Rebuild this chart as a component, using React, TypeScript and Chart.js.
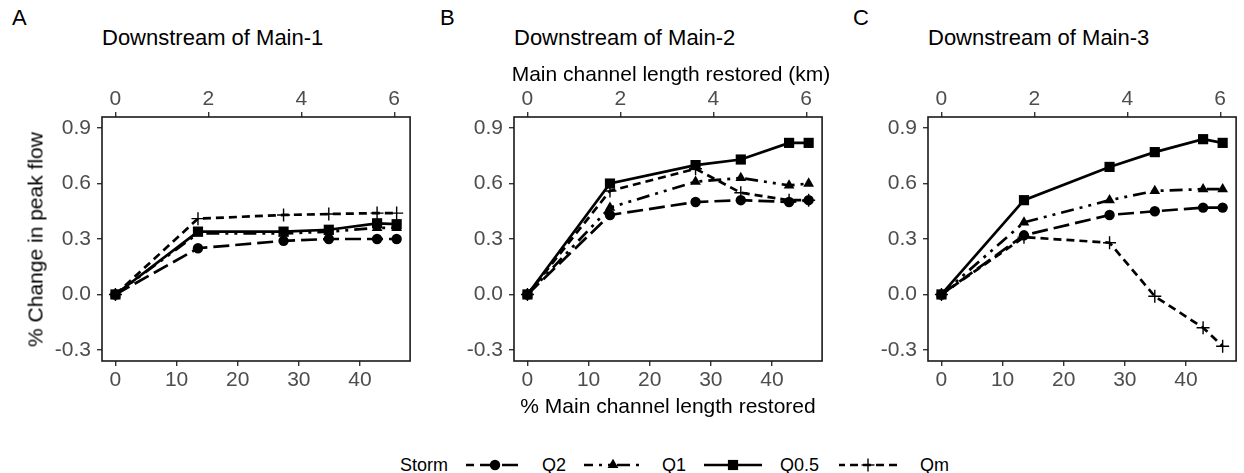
import React, { useEffect, useRef } from "react";
import { Chart, registerables } from "chart.js";

Chart.register(...registerables);

// Share of the main channel length restored (%) for each scenario
const pctRestored = [0, 13.5, 27.5, 34.9, 42.8, 46.0];
// 6 km of main channel corresponds to 45.6 % restored
const KM_PER_PCT = 6 / 45.6;

// Axis ticks
const pctTicks = [0, 10, 20, 30, 40];
const kmTicks = [0, 2, 4, 6];
const changeTicks = [-0.3, 0, 0.3, 0.6, 0.9];

// % change in peak flow, downstream of Main-1
const main1Q2 = [0, 0.25, 0.29, 0.3, 0.3, 0.3];
const main1Q1 = [0, 0.33, 0.33, 0.34, 0.36, 0.36];
const main1Q05 = [0, 0.34, 0.34, 0.35, 0.385, 0.38];
const main1Qm = [0, 0.41, 0.43, 0.435, 0.44, 0.44];

// % change in peak flow, downstream of Main-2
const main2Q2 = [0, 0.43, 0.5, 0.51, 0.5, 0.51];
const main2Q1 = [0, 0.47, 0.61, 0.63, 0.59, 0.6];
const main2Q05 = [0, 0.6, 0.7, 0.73, 0.82, 0.82];
const main2Qm = [0, 0.56, 0.68, 0.55, 0.51, 0.51];

// % change in peak flow, downstream of Main-3
const main3Q2 = [0, 0.32, 0.43, 0.45, 0.47, 0.47];
const main3Q1 = [0, 0.39, 0.51, 0.56, 0.57, 0.57];
const main3Q05 = [0, 0.51, 0.69, 0.77, 0.84, 0.82];
const main3Qm = [0, 0.31, 0.28, -0.01, -0.18, -0.28];

const panelLetters = ["A", "B", "C"];
const panelTitles = ["Downstream of Main-1", "Downstream of Main-2", "Downstream of Main-3"];
const stormNames = ["Q2", "Q1", "Q0.5", "Qm"];

const FONT = "'Liberation Sans', Arial, Helvetica, sans-serif";
const LINE_W = 2.7;

type StormStyle = {
  dash: number[];
  keyOffset: number;
  point: string;
  radius: number;
  border: number;
  order: number;
};
const stormStyles: Record<string, StormStyle> = {
  Q2: { dash: [16, 6], keyOffset: 8, point: "circle", radius: 5.2, border: 0, order: 4 },
  Q1: { dash: [13, 6, 3, 6, 3, 6], keyOffset: 4, point: "triangle", radius: 6.2, border: 0, order: 3 },
  "Q0.5": { dash: [], keyOffset: 0, point: "rect", radius: 7.2, border: 0, order: 2 },
  Qm: { dash: [8, 5], keyOffset: 2, point: "cross", radius: 6.5, border: 1.4, order: 1 },
};

// Plot-area geometry (page pixels)
const PLOT_TOP = 117;
const PLOT_H = 244;
const PLOT_W = 314;
const AXIS_W = 60;
const TOP_H = 57;
const BOTTOM_H = 40;
const RIGHT_PAD = 2;
const X_MIN = -2.2;
const X_MAX = 48.2;
const Y_MIN = -0.36;
const Y_MAX = 0.96;

const framePlugin = {
  id: "panelFrame",
  afterDatasetsDraw(chart: any) {
    const { ctx, chartArea: a } = chart;
    ctx.save();
    ctx.strokeStyle = "#1a1a1a";
    ctx.lineWidth = 1.6;
    ctx.strokeRect(a.left, a.top, a.right - a.left, a.bottom - a.top);
    ctx.restore();
  },
};

const tickFont = { family: FONT, size: 21 };
const tickGrid = {
  display: true,
  drawOnChartArea: false,
  drawTicks: true,
  tickLength: 5,
  color: "#333333",
  lineWidth: 1.4,
};

function Panel({ plotLeft, series }: { plotLeft: number; series: number[][] }) {
  const ref = useRef<HTMLCanvasElement>(null);
  const width = AXIS_W + PLOT_W + RIGHT_PAD;
  const height = TOP_H + PLOT_H + BOTTOM_H;

  useEffect(() => {
    if (!ref.current) return;
    const datasets = stormNames.map((name, i) => {
      const s = stormStyles[name];
      return {
        label: name,
        data: pctRestored.map((x, j) => ({ x, y: series[i][j] })),
        xAxisID: "x",
        yAxisID: "y",
        borderColor: "#000000",
        backgroundColor: "#000000",
        borderWidth: LINE_W,
        borderDash: s.dash,
        tension: 0,
        pointStyle: s.point,
        pointRadius: s.radius,
        pointBorderWidth: s.border,
        pointBorderColor: "#000000",
        pointBackgroundColor: "#000000",
        order: s.order,
      };
    });

    const chart = new Chart(ref.current, {
      type: "line",
      data: { datasets } as any,
      plugins: [framePlugin],
      options: {
        animation: false,
        responsive: false,
        events: [],
        layout: { padding: { left: 0, top: 0, right: RIGHT_PAD, bottom: 0 } },
        plugins: { legend: { display: false }, tooltip: { enabled: false } },
        scales: {
          x: {
            type: "linear",
            position: "bottom",
            min: X_MIN,
            max: X_MAX,
            afterBuildTicks: (s: any) => {
              s.ticks = pctTicks.map((v) => ({ value: v }));
            },
            afterFit: (s: any) => {
              s.height = BOTTOM_H;
            },
            grid: tickGrid,
            border: { display: false },
            ticks: { font: tickFont, color: "#4D4D4D", padding: 2, maxRotation: 0 },
          },
          xkm: {
            type: "linear",
            position: "top",
            min: X_MIN * KM_PER_PCT,
            max: X_MAX * KM_PER_PCT,
            afterBuildTicks: (s: any) => {
              s.ticks = kmTicks.map((v) => ({ value: v }));
            },
            afterFit: (s: any) => {
              s.height = TOP_H;
            },
            grid: tickGrid,
            border: { display: false },
            ticks: { font: tickFont, color: "#4D4D4D", padding: 0, maxRotation: 0 },
          },
          y: {
            type: "linear",
            position: "left",
            min: Y_MIN,
            max: Y_MAX,
            afterBuildTicks: (s: any) => {
              s.ticks = changeTicks.map((v) => ({ value: v }));
            },
            afterFit: (s: any) => {
              s.width = AXIS_W;
            },
            grid: tickGrid,
            border: { display: false },
            ticks: {
              font: tickFont,
              color: "#4D4D4D",
              padding: 6,
              callback: (v: any) => Number(v).toFixed(1),
            },
          },
        },
      } as any,
    });
    return () => chart.destroy();
  }, [series]);

  return (
    <canvas
      ref={ref}
      width={width}
      height={height}
      style={{
        position: "absolute",
        left: plotLeft - AXIS_W,
        top: PLOT_TOP - TOP_H,
        width,
        height,
        display: "block",
      }}
    />
  );
}

function Text({
  x,
  y,
  size,
  children,
  align = "left",
  color = "#000",
}: {
  x: number;
  y: number;
  size: number;
  children: React.ReactNode;
  align?: "left" | "center";
  color?: string;
}) {
  return (
    <div
      style={{
        position: "absolute",
        left: align === "center" ? x - 300 : x,
        width: align === "center" ? 600 : undefined,
        top: y - size / 2,
        fontSize: size,
        lineHeight: `${size}px`,
        fontFamily: FONT,
        whiteSpace: "nowrap",
        textAlign: align,
        color,
      }}
    >
      {children}
    </div>
  );
}

function LegendKey({ cx, name }: { cx: number; name: string }) {
  const s = stormStyles[name];
  const w = 58;
  const h = 20;
  const m = w / 2;
  let marker: React.ReactNode = null;
  if (s.point === "circle") marker = <circle cx={m} cy={h / 2} r={s.radius} fill="#000" />;
  else if (s.point === "triangle") {
    const r = s.radius;
    marker = (
      <polygon
        points={`${m},${h / 2 - r} ${m + 0.866 * r},${h / 2 + r / 2} ${m - 0.866 * r},${h / 2 + r / 2}`}
        fill="#000"
      />
    );
  } else if (s.point === "rect") {
    const a = s.radius * Math.SQRT1_2;
    marker = <rect x={m - a} y={h / 2 - a} width={2 * a} height={2 * a} fill="#000" />;
  } else {
    const r = s.radius;
    marker = (
      <g stroke="#000" strokeWidth={s.border}>
        <line x1={m - r} y1={h / 2} x2={m + r} y2={h / 2} />
        <line x1={m} y1={h / 2 - r} x2={m} y2={h / 2 + r} />
      </g>
    );
  }
  return (
    <svg
      width={w}
      height={h}
      style={{ position: "absolute", left: cx - w / 2, top: 465 - h / 2 }}
    >
      <line
        x1={0}
        y1={h / 2}
        x2={w}
        y2={h / 2}
        stroke="#000"
        strokeWidth={LINE_W}
        strokeDasharray={s.dash.length ? s.dash.join(" ") : undefined}
        strokeDashoffset={s.keyOffset}
      />
      {marker}
    </svg>
  );
}

const plotLefts = [102, 514, 928];
const panelSeries = [
  [main1Q2, main1Q1, main1Q05, main1Qm],
  [main2Q2, main2Q1, main2Q05, main2Qm],
  [main3Q2, main3Q1, main3Q05, main3Qm],
];
const letterLefts = [12, 440, 853];
const legendKeyCenters = [495, 613, 733, 868];
const legendTextLefts = [542, 662, 780, 920];

export default function App() {
  return (
    <div
      style={{
        position: "absolute",
        left: 0,
        top: 0,
        width: 1244,
        height: 473,
        overflow: "hidden",
        background: "#ffffff",
        fontFamily: FONT,
      }}
    >
      {plotLefts.map((pl, i) => (
        <Panel key={i} plotLeft={pl} series={panelSeries[i]} />
      ))}
      {panelLetters.map((l, i) => (
        <Text key={l} x={letterLefts[i]} y={18} size={22}>
          {l}
        </Text>
      ))}
      {panelTitles.map((t, i) => (
        <Text key={t} x={plotLefts[i]} y={37.5} size={22}>
          {t}
        </Text>
      ))}
      <Text x={671} y={73} size={21} align="center">
        Main channel length restored (km)
      </Text>
      <Text x={668} y={405.5} size={21} align="center">
        % Main channel length restored
      </Text>
      <div
        style={{
          position: "absolute",
          left: 35 - 150,
          top: 239 - 10.5,
          width: 300,
          height: 21,
          fontSize: 21,
          lineHeight: "21px",
          fontFamily: FONT,
          textAlign: "center",
          whiteSpace: "nowrap",
          transform: "rotate(-90deg)",
        }}
      >
        % Change in peak flow
      </div>
      <Text x={400} y={464.5} size={18}>
        Storm
      </Text>
      {stormNames.map((n, i) => (
        <React.Fragment key={n}>
          <LegendKey cx={legendKeyCenters[i]} name={n} />
          <Text x={legendTextLefts[i]} y={464.5} size={18}>
            {n}
          </Text>
        </React.Fragment>
      ))}
    </div>
  );
}
